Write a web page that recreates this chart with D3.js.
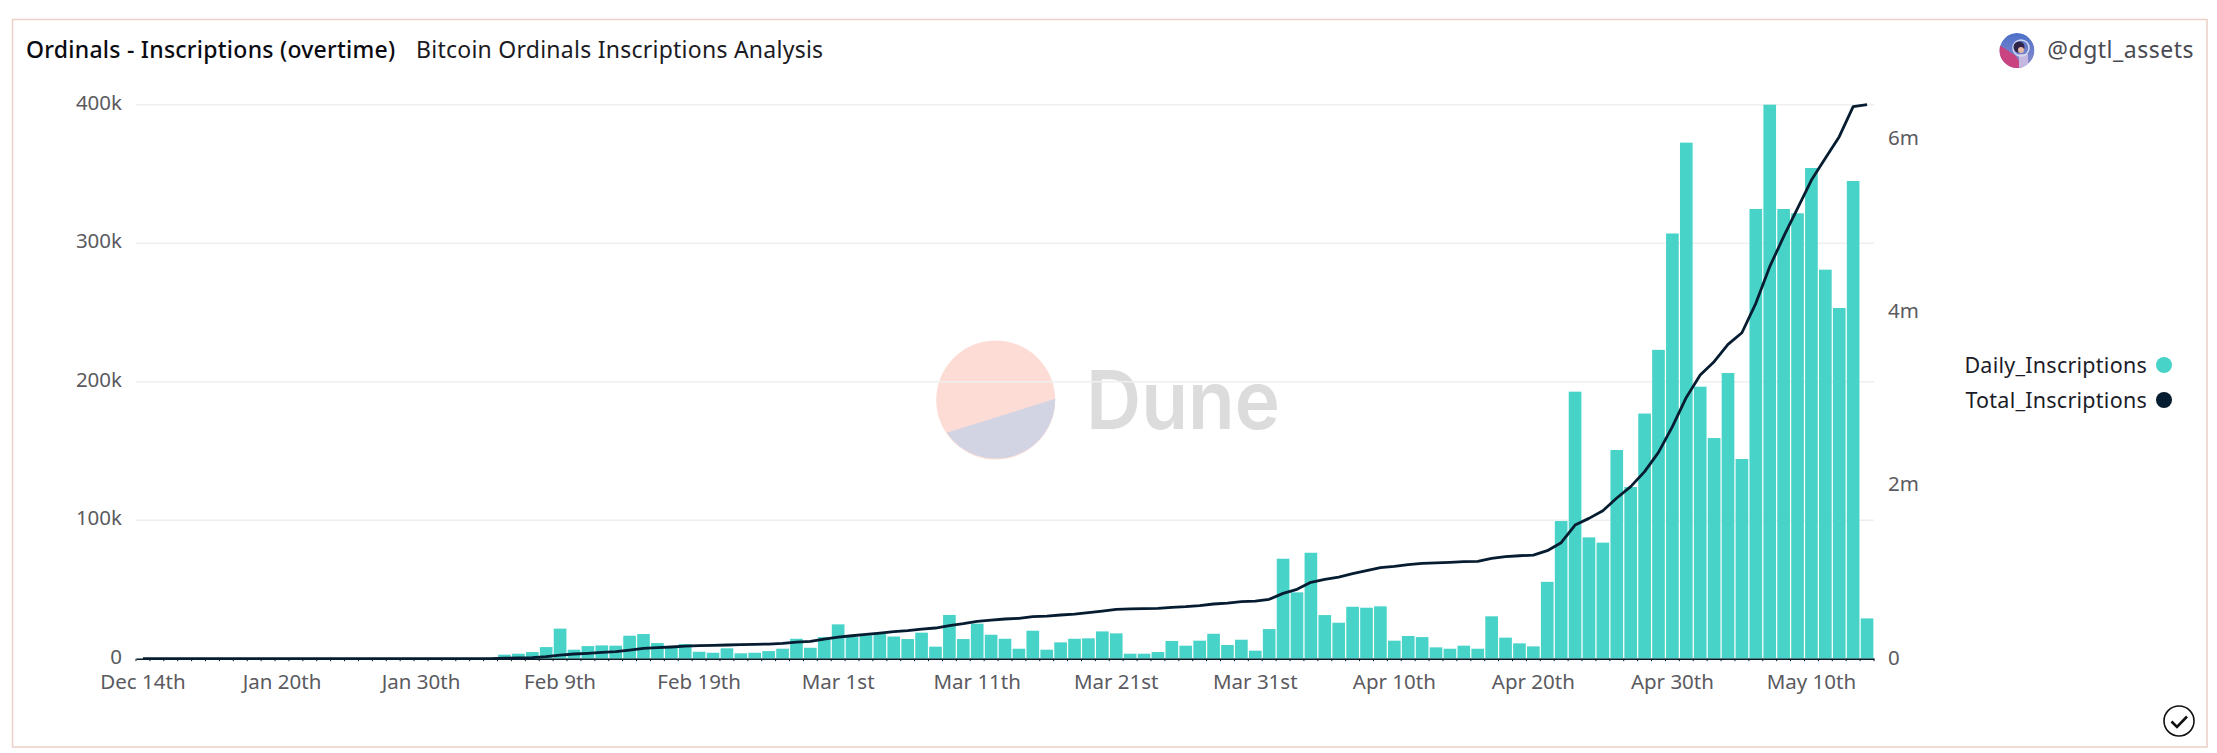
<!DOCTYPE html>
<html><head><meta charset="utf-8">
<script src="https://cdn.jsdelivr.net/npm/d3@7"></script>
<style>html,body{margin:0;padding:0;background:#fff;overflow:hidden}svg{display:block}</style>
</head><body><svg id="c" width="2217" height="753"></svg>
<script>
const dailyK = [0.1,0,0,0,0,0,0,0,0,0,0.1,0,0,0,0,0,0,0,0,0,0.1,0.1,0.1,0.1,0.3,0.6,2.9,3.6,4.8,8.4,21.7,6.5,9.1,9.6,9.4,16.6,17.8,11.3,8.4,10.6,5,4.3,7.5,3.9,4.3,5.5,7.2,14.4,7.9,15.6,24.8,15.6,17,17.8,16,14.2,18.8,8.7,31.6,14.2,25.3,17.3,14.4,7.2,20.2,6.5,11.8,14.4,14.7,19.7,18.3,3.6,3.6,4.8,12.8,9.4,13,18,9.9,13.7,5.8,21.4,72.2,47.9,76.5,31.5,26,37.5,36.8,37.8,13,16.4,15.6,8.2,7.2,9.4,7.2,30.6,15.2,11.1,8.9,55.5,99.4,192.8,87.6,83.8,150.7,124,177,223,307,372.6,196.4,159.3,206.3,144.2,324.7,400,324.7,321.6,354.3,280.9,253.2,344.9,29.1];
const totalM = [0,0,0,0,0,0,0,0,0,0,0,0,0,0,0,0,0,0,0,0,0,0,0.001,0.001,0.001,0.002,0.005,0.008,0.012,0.023,0.042,0.054,0.062,0.073,0.081,0.1,0.119,0.127,0.135,0.146,0.15,0.154,0.158,0.162,0.165,0.169,0.177,0.192,0.2,0.227,0.25,0.265,0.281,0.296,0.312,0.323,0.342,0.354,0.381,0.404,0.431,0.446,0.458,0.465,0.485,0.492,0.504,0.515,0.531,0.55,0.569,0.575,0.577,0.581,0.592,0.6,0.612,0.631,0.642,0.658,0.665,0.685,0.754,0.8,0.881,0.915,0.942,0.981,1.015,1.05,1.065,1.085,1.1,1.106,1.111,1.119,1.123,1.158,1.177,1.188,1.195,1.246,1.338,1.542,1.619,1.708,1.854,1.985,2.158,2.381,2.677,3.015,3.273,3.427,3.627,3.761,4.1,4.523,4.869,5.197,5.523,5.774,6.023,6.369,6.392];
const tickLabels = ["Dec 14th","Jan 20th","Jan 30th","Feb 9th","Feb 19th","Mar 1st","Mar 11th","Mar 21st","Mar 31st","Apr 10th","Apr 20th","Apr 30th","May 10th"];
const tickEvery = 10;
const leftTicks = [0,100,200,300,400];
const rightTicks = [0,2,4,6];
const seriesNames = ["Daily_Inscriptions","Total_Inscriptions"];
const seriesColors = ["#47d3c8","#061c30"];
const FONT = "'Noto Sans',sans-serif";

const svg = d3.select("#c");
const m = {l:136,r:1874,t:104.7,b:658.7};
const cats = d3.range(dailyK.length);
const x = d3.scaleBand().domain(cats).range([m.l,m.r]).paddingInner(0.09).paddingOuter(0.045);
const y = d3.scaleLinear().domain([0,400]).range([m.b,m.t]);
const y2 = d3.scaleLinear().domain([0,6.392]).range([m.b,m.t]);

// frame
svg.append("rect").attr("x",12.5).attr("y",19.5).attr("width",2194.5).attr("height",727.5).attr("fill","#fff").attr("stroke","#ecd0c6").attr("stroke-width",1.5);

// title
svg.append("text").attr("x",26).attr("y",58).attr("font-family",FONT).attr("font-size",23).attr("font-weight",500).attr("letter-spacing",0.25).attr("fill","#0b0b12").text("Ordinals - Inscriptions (overtime)");
svg.append("text").attr("x",416).attr("y",58).attr("font-family",FONT).attr("font-size",23).attr("letter-spacing",0.25).attr("fill","#1b1b24").text("Bitcoin Ordinals Inscriptions Analysis");

// user
const defs = svg.append("defs");
const grad = defs.append("linearGradient").attr("id","av").attr("x1",0).attr("y1",0).attr("x2",0).attr("y2",1);
grad.append("stop").attr("offset","0").attr("stop-color","#4c6fc8");
grad.append("stop").attr("offset","1").attr("stop-color","#8f8fd0");
defs.append("clipPath").attr("id","avc").append("circle").attr("cx",2017).attr("cy",50.5).attr("r",17.5);
const av = svg.append("g").attr("clip-path","url(#avc)");
av.append("circle").attr("cx",2017).attr("cy",50.5).attr("r",17.5).attr("fill","url(#av)");
av.append("path").attr("d","M1998,44 L2016,56 L2024,70 L1998,70 Z").attr("fill","#c8437f");
av.append("rect").attr("x",2019).attr("y",54).attr("width",9).attr("height",16).attr("fill","#c4b8e0");
av.append("circle").attr("cx",2021).attr("cy",48).attr("r",8).attr("fill","none").attr("stroke","#d5dcf2").attr("stroke-width",1.5);
av.append("circle").attr("cx",2019).attr("cy",47).attr("r",5.5).attr("fill","#2f2548");
av.append("circle").attr("cx",2021).attr("cy",50).attr("r",3).attr("fill","#e8b9a6");
svg.append("text").attr("x",2194).attr("y",58).attr("text-anchor","end").attr("font-family",FONT).attr("font-size",23).attr("letter-spacing",0.5).attr("fill","#4a4a52").text("@dgtl_assets");

// watermark
const wm = svg.append("g");
const cx=995.7, cy=400, r=59.5;
wm.append("circle").attr("cx",cx).attr("cy",cy).attr("r",r).attr("fill","#fcdcd5");
wm.append("path").attr("d",`M946.7,432.7 L1055.3,398.7 A${r},${r} 0 0 1 946.7,432.7 Z`).attr("fill","#d2d4e3");
wm.append("text").attr("x",1086).attr("y",429).attr("font-family","Inter,sans-serif").attr("font-weight",600).attr("font-size",81).attr("textLength",194).attr("lengthAdjust","spacingAndGlyphs").attr("fill","#dcdcdc").text("Dune");

// grid
svg.append("g").attr("stroke","#efefef").attr("stroke-width",1.5)
  .selectAll("line").data(leftTicks.slice(1)).join("line")
  .attr("x1",m.l).attr("x2",m.r).attr("y1",d=>y(d)).attr("y2",d=>y(d));

// bars
svg.append("g").selectAll("rect").data(cats).join("rect")
  .attr("x",i=>x(i)).attr("width",x.bandwidth())
  .attr("y",i=>y(dailyK[i])).attr("height",i=>y(0)-y(dailyK[i]))
  .attr("fill",seriesColors[0]);

// x axis
const centers = d3.scaleLinear().domain([0,dailyK.length]).range([m.l,m.r]);
const axisX = d3.axisBottom(x).tickSize(0).tickPadding(16)
  .tickValues(tickLabels.map((_,i)=>i*tickEvery))
  .tickFormat(d=>tickLabels[d/tickEvery]);
const gx = svg.append("g").attr("transform",`translate(0,${m.b})`).call(axisX);
gx.select(".domain").attr("stroke","#0a1a28").attr("stroke-width",1.5);
gx.selectAll("text").attr("font-family",FONT).attr("font-size",20.5).attr("fill","#5a5a60");
// small band ticks
svg.append("g").attr("stroke","#0a1a28").attr("stroke-width",1).selectAll("line").data(d3.range(dailyK.length+1)).join("line")
  .attr("x1",i=>centers(i)).attr("x2",i=>centers(i)).attr("y1",m.b).attr("y2",m.b+2.5);

// y axes
const axL = d3.axisLeft(y).tickSize(0).tickPadding(14).tickValues(leftTicks).tickFormat(d=>d?d+"k":"0");
const gl = svg.append("g").attr("transform",`translate(${m.l},-2)`).call(axL);
gl.select(".domain").remove();
gl.selectAll("text").attr("font-family",FONT).attr("font-size",20.5).attr("fill","#5a5a60");
const axR = d3.axisRight(y2).tickSize(0).tickPadding(14).tickValues(rightTicks).tickFormat(d=>d?d+"m":"0");
const gr = svg.append("g").attr("transform",`translate(${m.r},-1)`).call(axR);
gr.select(".domain").remove();
gr.selectAll("text").attr("font-family",FONT).attr("font-size",20.5).attr("fill","#5a5a60");

// line
svg.append("path").attr("fill","none").attr("stroke",seriesColors[1]).attr("stroke-width",2.8).attr("stroke-linejoin","round")
  .attr("d",d3.line().x(i=>x(i)+x.bandwidth()/2).y(i=>y2(totalM[i]))(cats));

// legend
const leg = svg.append("g").selectAll("g").data(seriesNames).join("g").attr("transform",(d,i)=>`translate(0,${365+i*35})`);
leg.append("text").attr("x",2147).attr("y",0).attr("dy","0.35em").attr("text-anchor","end").attr("font-family",FONT).attr("font-size",21.5).attr("letter-spacing",0.25).attr("fill","#1c1c28").text(d=>d);
leg.append("circle").attr("cx",2164).attr("r",8).attr("fill",(d,i)=>seriesColors[i]);

// check icon
svg.append("circle").attr("cx",2179).attr("cy",721).attr("r",15).attr("fill","#fff").attr("stroke","#111").attr("stroke-width",1.6);
svg.append("path").attr("d","M2171.5,721.5 L2177,727 L2187,716.5").attr("fill","none").attr("stroke","#111").attr("stroke-width",2.6);
</script></body></html>
